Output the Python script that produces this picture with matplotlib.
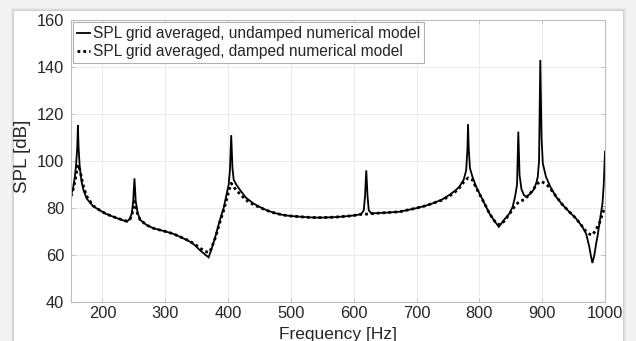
import matplotlib
matplotlib.use("Agg")
import matplotlib.pyplot as plt
from matplotlib.patches import Rectangle

# ---------------- data ----------------
freq_undamped = [150, 153, 156, 158, 160, 161, 162, 164, 167, 170, 175, 185, 196, 205, 217, 228,
                 239, 244, 247, 249, 251, 253, 256, 260, 270, 281, 292, 302, 313, 323, 331, 339,
                 347, 355, 362, 369, 373, 380, 387, 393, 398, 401, 403, 405, 407, 409, 413, 419,
                 428, 440, 450, 461, 475, 488, 500, 514, 530, 546, 570, 593, 605, 612, 616, 618,
                 620, 622, 624, 628, 650, 673, 699, 715, 726, 740, 752, 762, 768, 775, 779, 781,
                 782, 783, 785, 789, 795, 800, 808, 816, 824, 831, 838, 848, 853, 857, 860, 862,
                 864, 867, 871, 874, 881, 887, 891, 893, 895, 897, 899, 901, 906, 913, 922, 932,
                 943, 954, 964, 970, 975, 978, 980, 983, 986, 988, 992, 996, 998, 1000]
spl_undamped = [85.5, 88, 93, 98, 106, 115.3, 106, 97, 91, 87.5, 84, 80.8, 79, 77.6, 76.3, 75.2,
                74.2, 75.5, 78, 83, 92.6, 83, 78, 75, 72.8, 71.4, 70.6, 69.9, 69, 67.8, 66.8, 65.7,
                64.2, 62.1, 60.5, 59, 62, 68, 74.9, 80, 86.3, 90, 96, 111, 97, 92, 90, 87.7,
                84.5, 82, 80.5, 79.1, 77.8, 77, 76.6, 76.3, 76, 75.9, 76.1, 76.6, 77, 77.5, 79, 85,
                96, 85, 79, 77.7, 78, 78.4, 79.9, 81, 82, 83.5, 85.5, 87.5, 89, 92, 96, 105,
                115.5, 106, 97, 93.3, 89, 86.3, 82, 77.7, 74.5, 72, 74.5, 77.7, 80.5, 85, 90, 112.5,
                94, 88, 85.5, 84.8, 86, 88, 91, 93.3, 100, 143, 110, 99, 93.3, 89, 84.8, 81.5,
                78.4, 75.5, 72, 69, 63.5, 59, 56.6, 60, 65, 67.8, 75, 82, 90, 104]

freq_damped = [150, 153, 156, 158, 160, 162, 164, 167, 170, 175, 185, 196, 205, 217, 228, 239,
               244, 247, 249, 251, 253, 256, 260, 270, 281, 292, 302, 313, 323, 331, 339, 347,
               355, 362, 369, 373, 380, 387, 393, 398, 402, 405, 408, 413, 419, 428, 440, 450,
               461, 475, 488, 500, 514, 530, 546, 570, 593, 605, 612, 620, 628, 650, 673, 699,
               715, 726, 740, 752, 762, 768, 775, 782, 789, 795, 800, 808, 816, 824, 832, 840,
               848, 856, 863, 871, 879, 886, 893, 899, 905, 911, 922, 932, 943, 954, 962, 969,
               975, 980, 985, 991, 996, 1000]
spl_damped = [85, 87.5, 91, 94, 97, 98.3, 96.5, 92.5, 89, 85, 81, 79, 77.6, 76.3, 75.3, 74.4,
              75.3, 77, 80, 82.7, 80.5, 77.5, 75, 72.8, 71.4, 70.6, 69.9, 69, 67.8, 66.9, 65.9, 64.6,
              63, 61.8, 61, 62.5, 67.5, 74, 79, 84, 88, 90.5, 89.5, 87.5, 86, 83.5, 81.5, 80.3,
              79, 77.8, 77, 76.6, 76.3, 76, 75.9, 76.1, 76.6, 77, 77.3, 77.4, 77.6, 78, 78.4, 79.9,
              81, 82, 83.3, 85, 87, 88.5, 91, 92.8, 92, 88.5, 86, 82, 77.7, 74.5, 72.8, 74.5,
              77.5, 80.6, 82.7, 83.5, 85.5, 88, 90.5, 91.3, 90.3, 89, 85, 81.5, 78.4, 75.5, 72.8, 70.3,
              68.9, 68.5, 70.5, 73.5, 77.5, 80.6]

label_undamped = "SPL grid averaged, undamped numerical model"
label_damped = "SPL grid averaged, damped numerical model"
x_ticks = [200, 300, 400, 500, 600, 700, 800, 900, 1000]
y_ticks = [40, 60, 80, 100, 120, 140, 160]

# ---------------- figure ----------------
plt.rcParams['font.family'] = ['Liberation Sans', 'DejaVu Sans']
W, H = 636, 341
fig = plt.figure(figsize=(W / 100, H / 100), dpi=100)
fig.patch.set_facecolor('#f3f3f3')

# soft shadow + white card (behind the axes)
for i, a in enumerate([0.04, 0.05, 0.06]):
    d = 3 - i
    fig.add_artist(Rectangle(((14 - d) / W, 0), (609 + 2 * d) / W, (330 + d) / H,
                             transform=fig.transFigure, facecolor='#000000', alpha=a,
                             edgecolor='none', zorder=-3))
fig.add_artist(Rectangle((14 / W, 0), 609 / W, 330 / H, transform=fig.transFigure,
                         facecolor='white', edgecolor='none', zorder=-2))

ax = fig.add_axes([71 / W, 1 - 302 / H, (605 - 71) / W, (302 - 20) / H])
ax.set_zorder(1)
ax.set_facecolor('white')

ax.plot(freq_undamped, spl_undamped, color='black', lw=1.3, label=label_undamped,
        solid_joinstyle='miter')
ax.plot(freq_damped, spl_damped, color='black', lw=2.0, linestyle=(0, (1, 1.1)),
        dash_capstyle='butt', label=label_damped)

ax.set_xlim(150, 1000)
ax.set_ylim(40, 160)
ax.set_xticks(x_ticks)
ax.set_yticks(y_ticks)
ax.grid(True, color='#ebebeb', lw=0.7)
ax.set_axisbelow(True)
for s in ax.spines.values():
    s.set_color('#bdbdbd')
    s.set_linewidth(0.8)
ax.tick_params(direction='in', length=3, width=0.6, color='#bdbdbd',
               labelsize=11.8, labelcolor='#262626', pad=3,
               top=True, right=True)
ax.tick_params(axis='y', pad=5)

ax.set_xlabel('Frequency [Hz]', fontsize=12.5, color='#262626')
ax.xaxis.set_label_coords(0.5, -0.088)
ax.xaxis.label.set_verticalalignment('top')
ax.set_ylabel('SPL [dB]', fontsize=13.5, color='#262626')
ax.yaxis.set_label_coords(-0.075, 0.515)

leg = ax.legend(loc='upper left', bbox_to_anchor=(0.0, 1.0), borderaxespad=0.15,
                fontsize=11.2, frameon=True, fancybox=False, framealpha=1,
                edgecolor='#b0b0b0', handlelength=0.85, handletextpad=0.15,
                borderpad=0.25, labelspacing=0.2)
leg.get_frame().set_linewidth(0.8)
for t in leg.get_texts():
    t.set_color('#262626')

fig.savefig('out.png', dpi=100, facecolor=fig.get_facecolor())
